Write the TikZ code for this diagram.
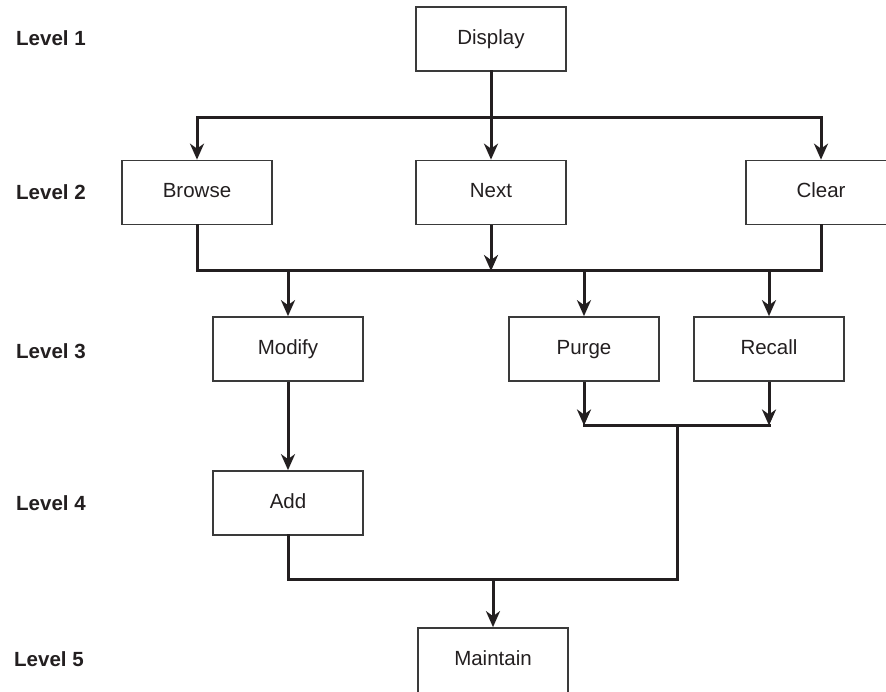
\documentclass[tikz,border=0pt]{standalone}
\usepackage{fontspec}
\setmainfont{Liberation Sans}
\usetikzlibrary{arrows.meta}
\definecolor{ink}{HTML}{231F20}
\definecolor{boxline}{HTML}{3A3A3A}
\tikzset{
  unit/.style={draw=boxline, line width=1.7pt, minimum width=150pt, minimum height=64pt,
    inner sep=0pt, text=ink, font=\fontsize{20.5}{24}\selectfont,
    text height=15pt, text depth=4pt},
  levellabel/.style={anchor=west, inner sep=0pt, text=ink,
    font=\fontsize{20.5}{24}\selectfont\bfseries},
  conn/.style={draw=ink, line width=3pt, line cap=rect, line join=miter},
  arr/.style={conn, line cap=butt, -{Stealth[length=16pt, width=14pt, inset=5pt]}},
}
\begin{document}
\begin{tikzpicture}[x=1pt, y=-1pt]
  \useasboundingbox (0,0) rectangle (886,692);
  \clip (0,0) rectangle (886,692);
  \fill[white] (0,0) rectangle (886,692);

  % level captions
  \node[levellabel] (L1) at (16,38)  {Level 1};
  \node[levellabel] (L2) at (16,192) {Level 2};
  \node[levellabel] (L3) at (16,351) {Level 3};
  \node[levellabel] (L4) at (16,503) {Level 4};
  \node[levellabel] (L5) at (14,659) {Level 5};

  % modules
  \node[unit] (display)  at (491,39)   {Display};
  \node[unit] (browse)   at (197,192.5) {Browse};
  \node[unit] (next)     at (491,192.5) {Next};
  \node[unit] (clear)    at (821,192.5) {Clear};
  \node[unit] (modify)   at (288,349)   {Modify};
  \node[unit] (purge)    at (584,349)   {Purge};
  \node[unit] (recall)   at (769,349)   {Recall};
  \node[unit] (add)      at (288,503)   {Add};
  \node[unit, minimum height=72pt, text depth=12pt] (maintain) at (493,664) {Maintain};

  % bus rows
  \coordinate (busA) at (491,118);
  \coordinate (busB) at (491,271);
  \coordinate (busC) at (677,425.5);
  \coordinate (busD) at (677,579);

  % Display -> level 2
  \draw[conn] (display.south) -- (busA);
  \draw[conn] (browse.north |- busA) -- (clear.north |- busA);
  \draw[arr] (browse.north |- busA) -- (browse.north);
  \draw[arr] (busA) -- (next.north);
  \draw[arr] (clear.north |- busA) -- (clear.north);

  % level 2 -> level 3
  \draw[conn] (browse.south) -- (browse.south |- busB) -- (clear.south |- busB) -- (clear.south);
  \draw[arr] (next.south) -- (busB);
  \draw[arr] (modify.north |- busB) -- (modify.north);
  \draw[arr] (purge.north |- busB) -- (purge.north);
  \draw[arr] (recall.north |- busB) -- (recall.north);

  % level 3 -> level 4
  \draw[arr] (modify.south) -- (add.north);
  \draw[arr] (purge.south) -- (purge.south |- busC);
  \draw[arr] (recall.south) -- (recall.south |- busC);
  \draw[conn] (purge.south |- busC) -- (recall.south |- busC);
  \draw[conn] (busC) -- (busD);

  % level 4 -> level 5
  \draw[conn] (add.south) -- (add.south |- busD) -- (busD);
  \draw[arr] (maintain.north |- busD) -- (maintain.north);
\end{tikzpicture}
\end{document}
